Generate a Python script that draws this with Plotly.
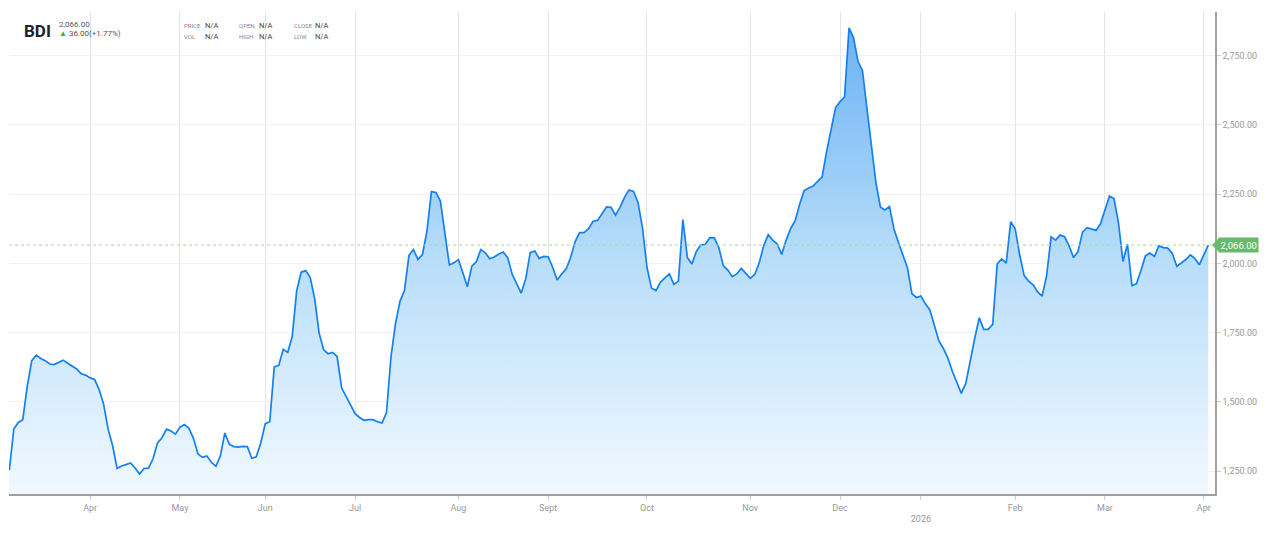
import plotly.graph_objects as go

# ---- data (BDI daily closes) ----
month_labels = ["Mar", "Apr", "May", "Jun", "Jul", "Aug", "Sept", "Oct", "Nov", "Dec", "<br>2026", "Feb", "Mar", "Apr"]
mar25 = [1254, 1402, 1426, 1436, 1557, 1649, 1669, 1657, 1649, 1637, 1635, 1644, 1651, 1640, 1630, 1619, 1602, 1597]
apr25 = [1587, 1581, 1545, 1492, 1402, 1343, 1260, 1269, 1274, 1280, 1262, 1240, 1260, 1261, 1295, 1352, 1371, 1402, 1395, 1384]
may25 = [1409, 1419, 1405, 1369, 1313, 1300, 1305, 1283, 1268, 1305, 1388, 1347, 1339, 1337, 1340, 1339, 1297, 1302, 1352]
jun25 = [1422, 1429, 1626, 1632, 1690, 1679, 1736, 1902, 1968, 1974, 1950, 1873, 1748, 1688, 1674, 1679, 1664, 1551, 1519, 1488]
jul25 = [1458, 1444, 1434, 1436, 1436, 1429, 1424, 1462, 1664, 1783, 1863, 1902, 2029, 2050, 2014, 2032, 2116, 2259, 2256, 2225, 2113, 1994, 2002]
aug25 = [2014, 1966, 1916, 1990, 2006, 2050, 2038, 2017, 2023, 2034, 2041, 2020, 1960, 1926, 1893, 1944, 2039, 2045, 2018, 2025]
sep25 = [2024, 1986, 1940, 1962, 1980, 2021, 2079, 2111, 2111, 2125, 2152, 2155, 2179, 2204, 2202, 2174, 2202, 2238, 2265, 2260, 2220, 2129]
oct25 = [1986, 1911, 1902, 1932, 1948, 1962, 1924, 1936, 2158, 2021, 1998, 2043, 2067, 2069, 2093, 2092, 2057, 1992, 1976, 1952, 1962, 1982, 1964]
nov25 = [1946, 1960, 2002, 2064, 2104, 2084, 2070, 2032, 2084, 2126, 2154, 2213, 2263, 2272, 2279, 2296, 2311, 2403, 2487, 2562]
dec25 = [2584, 2600, 2850, 2814, 2729, 2695, 2558, 2427, 2290, 2203, 2193, 2205, 2124, 2076, 2032, 1984, 1891, 1877]
jan26 = [1882, 1854, 1832, 1779, 1721, 1693, 1659, 1611, 1569, 1531, 1567, 1652, 1730, 1804, 1762, 1762, 1780, 1998, 2016, 2001, 2150]
feb26 = [2125, 2031, 1956, 1936, 1923, 1897, 1882, 1956, 2096, 2084, 2102, 2096, 2063, 2021, 2043, 2113, 2129, 2123, 2119, 2143]
mar26 = [2194, 2243, 2234, 2147, 2007, 2069, 1920, 1926, 1974, 2027, 2037, 2025, 2063, 2057, 2055, 2036, 1989, 2001, 2014, 2031, 2018, 1995]
apr26 = [2031, 2066]

months = [mar25, apr25, may25, jun25, jul25, aug25, sep25, oct25, nov25, dec25, jan26, feb26, mar26, apr26]
y_ticks = [1250, 1500, 1750, 2000, 2250, 2500, 2750]
last_price = 2066.00
change = 36.00
change_pct = 1.77

values = [v for m in months for v in m]
xs = list(range(len(values)))
starts = []
pos = 0
for m in months:
    starts.append(pos)
    pos += len(m)
tickvals = starts[1:]
ticktext = month_labels[1:]

W, H = 1271, 533
ML, MR, MT, MB = 9, 56, 12, 34
PW, PH = W - ML - MR, H - MT - MB


def px(xp):
    return (xp - ML) / PW


def py(yp):
    return (H - MB - yp) / PH


fig = go.Figure()
fig.add_trace(go.Scatter(
    x=xs, y=values, mode="lines",
    line=dict(color="#1580ee", width=1.7),
    fill="tozeroy",
    fillgradient=dict(type="vertical", start=1168, stop=2850,
                      colorscale=[[0, "#f2f9ff"], [0.5, "#b9defa"], [1, "#6cb2f4"]]),
    hoverinfo="y",
))

fig.add_shape(type="line", xref="paper", x0=0, x1=1, yref="y", y0=last_price, y1=last_price,
              line=dict(color="#a9dc9a", width=1, dash="3px,3px"))
fig.add_shape(type="path", xref="paper", xsizemode="pixel", xanchor=1,
              yref="y", ysizemode="pixel", yanchor=last_price,
              path="M-3,0 L4,7 L4,-7 Z", fillcolor="#66bb6a", line=dict(width=0))

annotations = [
    dict(x=1, xref="paper", y=last_price, yref="y", xanchor="left", yanchor="middle", xshift=3,
         text=f"{last_price:,.2f}", showarrow=False, bgcolor="#66bb6a", borderpad=1.5,
         font=dict(color="white", size=9.5, family="Roboto")),
    dict(x=px(22), y=py(31), text="<b>BDI</b>", font=dict(size=17, color="#222", family="Roboto")),
    dict(x=px(57), y=py(25), text=f"{last_price:,.2f}", font=dict(size=8, color="#555", family="Roboto")),
    dict(x=px(57), y=py(34), text="<span style='color:#35b135'>▲</span> "
         f"{change:.2f}(+{change_pct:.2f}%)", font=dict(size=8, color="#555", family="Roboto")),
]
hdr = [("PRICE", 182, 203, 26), ("VOL", 182, 203, 37), ("OPEN", 237, 257, 26),
       ("HIGH", 237, 257, 37), ("CLOSE", 292, 313, 26), ("LOW", 292, 313, 37)]
for lab, x1, x2, yy in hdr:
    annotations.append(dict(x=px(x1), y=py(yy), text=lab, font=dict(size=6, color="#888", family="Roboto")))
    annotations.append(dict(x=px(x2), y=py(yy), text="N/A", font=dict(size=7.5, color="#444", family="Roboto")))
for a in annotations:
    a.setdefault("xref", "paper")
    a.setdefault("yref", "paper")
    a.setdefault("xanchor", "left")
    a.setdefault("yanchor", "middle")
    a.setdefault("showarrow", False)

fig.update_layout(
    width=W, height=H,
    margin=dict(l=ML, r=MR, t=MT, b=MB),
    plot_bgcolor="white", paper_bgcolor="white",
    showlegend=False,
    annotations=annotations,
    font=dict(family="Roboto", color="#999"),
    xaxis=dict(range=[-0.07, len(values) + 0.5], tickvals=tickvals, ticktext=ticktext,
               showgrid=True, gridcolor="#e4e4e4", gridwidth=1,
               showline=True, linecolor="#a0a0a0", linewidth=1.5,
               ticks="outside", ticklen=4, tickcolor="#cccccc",
               tickfont=dict(size=9, color="#999"), zeroline=False, fixedrange=True),
    yaxis=dict(side="right", range=[1168, 2907], tickvals=y_ticks, tickformat=",.2f",
               showgrid=True, gridcolor="#f1f1f1", gridwidth=1,
               showline=True, linecolor="#a0a0a0", linewidth=1.5,
               ticks="outside", ticklen=4, tickcolor="#cccccc",
               tickfont=dict(size=9, color="#999"), zeroline=False, fixedrange=True),
)

fig.write_html("out.html", config={"displayModeBar": False},
               post_script="document.body.style.margin='0';")
